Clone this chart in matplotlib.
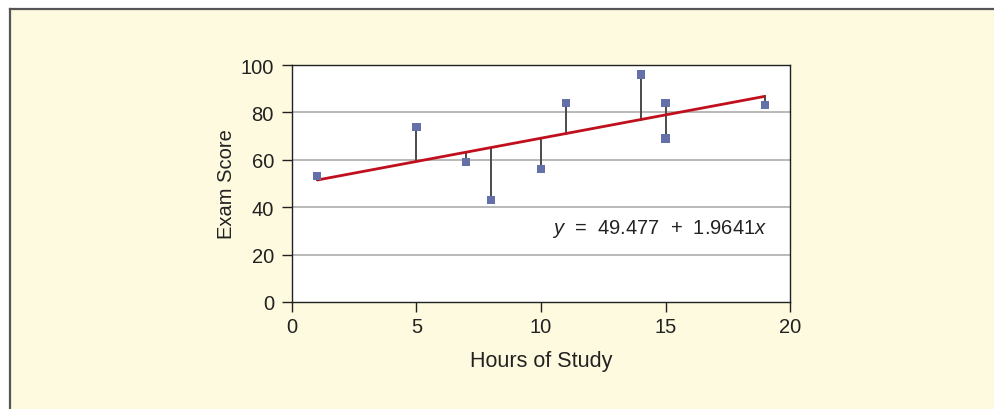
import matplotlib
matplotlib.use("Agg")
import matplotlib.pyplot as plt
from matplotlib.patches import Rectangle
from matplotlib.lines import Line2D

plt.rcParams['font.family'] = ['Liberation Sans', 'DejaVu Sans']
plt.rcParams['mathtext.fontset'] = 'custom'
plt.rcParams['mathtext.rm'] = 'Liberation Sans'
plt.rcParams['mathtext.it'] = 'Liberation Sans:italic'

# Study hours and exam scores
hours = [1, 5, 7, 8, 10, 11, 14, 15, 15, 19]
scores = [53, 74, 59, 43, 56, 84, 96, 84, 69, 83]

# Least-squares line: y = intercept + slope * x
intercept = 49.477
slope = 1.9641

x_ticks = [0, 5, 10, 15, 20]
y_ticks = [0, 20, 40, 60, 80, 100]

W, H = 995, 410
fig = plt.figure(figsize=(W / 100, H / 100), dpi=100, facecolor='white')

# Cream panel with a top and left rule
x0, ytop = 10 / W, 1 - 10 / H
fig.patches.append(Rectangle((x0, 0), 1 - x0, ytop, transform=fig.transFigure,
                             facecolor='#FEFADF', edgecolor='none', zorder=-2))
fig.lines.append(Line2D([x0, 1], [ytop, ytop], transform=fig.transFigure,
                        color='#555555', lw=1.6, zorder=-1))
fig.lines.append(Line2D([x0, x0], [0, ytop], transform=fig.transFigure,
                        color='#555555', lw=1.6, zorder=-1))

ax = fig.add_axes([292 / W, 1 - 303 / H, (790 - 292) / W, (303 - 66) / H])
ax.set_zorder(2)
ax.set_facecolor('white')
ax.set_xlim(0, 20)
ax.set_ylim(0, 100)

for y in y_ticks[1:-1]:
    ax.axhline(y, color='#ADADAD', lw=1.2, zorder=1)

# Residual segments from each point to the fitted line
for x, y in zip(hours, scores):
    yhat = intercept + slope * x
    ax.plot([x, x], [y, yhat], color='#4A4A4A', lw=1.4, zorder=2)

xs = [min(hours), max(hours)]
ax.plot(xs, [intercept + slope * v for v in xs], color='#C0101E', lw=2.0,
        solid_capstyle='butt', zorder=3)

ax.scatter(hours, scores, marker='s', s=34, color='#6470A8', edgecolors='none',
           zorder=4)

ax.text(0.522, 0.312, r'$y$  =  49.477  +  1.9641$x$', transform=ax.transAxes,
        ha='left', va='center', fontsize=14.5, color='#222222')

ax.set_xticks(x_ticks)
ax.set_yticks(y_ticks)
ax.tick_params(axis='both', direction='out', length=7, width=1,
               labelsize=14.5, colors='#222222')
ax.tick_params(axis='y', pad=6)
ax.tick_params(axis='x', pad=4)
for sp in ax.spines.values():
    sp.set_color('#222222')
    sp.set_linewidth(1)

ax.set_xlabel('Hours of Study', fontsize=15.5, color='#222222', labelpad=10)
ax.set_ylabel('Exam Score', fontsize=14.5, color='#222222', labelpad=3)

fig.savefig('out.png', dpi=100, facecolor='white')
